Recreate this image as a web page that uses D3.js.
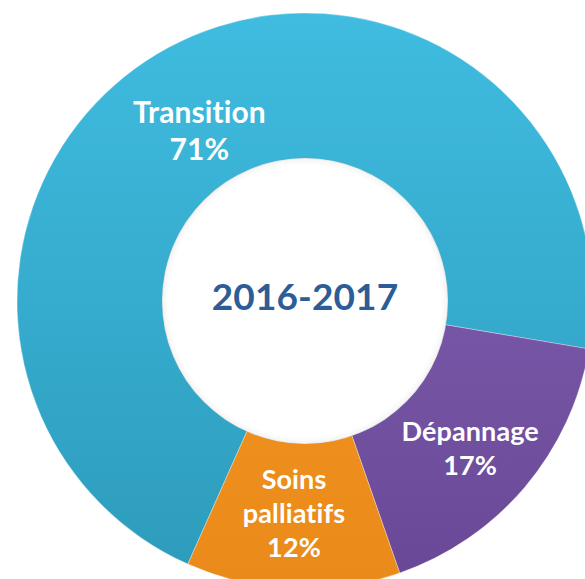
<!DOCTYPE html>
<html>
<head>
    <meta charset="utf-8">
    <style>
        body { margin: 0; background: #fff; }
        svg { display: block; }
        text { font-variant-ligatures: none; letter-spacing: 0.1px; }
    </style>
</head>
<body>
<script src="https://cdn.jsdelivr.net/npm/d3@7"></script>
<script>
    var categories = ['Transition', 'Dépannage', 'Soins palliatifs'];
    var values = [71, 17, 12];
    var labelLines = [['Transition', '71%'], ['Dépannage', '17%'], ['Soins', 'palliatifs', '12%']];
    var title = '2016-2017';

    var W = 585, H = 579;
    var chart = {
        cx: 305,
        cy: 301,
        outer: 288,
        inner: 142,
        start: 204, // degrees, clockwise from 12 o'clock
        fontfamily: 'Lato, "Open Sans", sans-serif'
    };
    var colours = [
        ['#3FBCE0', '#2D9BBB'],
        ['#8A65B9', '#684896'],
        ['#F99A22', '#EA8A1A']
    ];
    // label styling and nudges from each slice centroid
    var labelSize = [30, 27, 27];
    var labelLead = [37, 34, 34];
    var nudge = [[-4, 19], [1, 9], [-2, -2]];

    var svg = d3.select('body').append('svg')
        .attr('width', W)
        .attr('height', H);

    var defs = svg.append('defs');
    colours.forEach(function (c, i) {
        var lg = defs.append('linearGradient')
            .attr('id', 'grad' + i)
            .attr('gradientUnits', 'userSpaceOnUse')
            .attr('x1', 0).attr('y1', -chart.outer)
            .attr('x2', 0).attr('y2', chart.outer);
        lg.append('stop').attr('offset', '0%').attr('stop-color', c[0]);
        lg.append('stop').attr('offset', '100%').attr('stop-color', c[1]);
    });

    var hole = defs.append('radialGradient').attr('id', 'hole');
    hole.append('stop').attr('offset', '95%').attr('stop-color', '#ffffff');
    hole.append('stop').attr('offset', '99%').attr('stop-color', '#f6f6f6');
    hole.append('stop').attr('offset', '100%').attr('stop-color', '#dcdcdc');

    var pie = d3.pie()
        .sort(null)
        .startAngle(chart.start * Math.PI / 180)
        .endAngle(chart.start * Math.PI / 180 + 2 * Math.PI);

    var arc = d3.arc()
        .innerRadius(chart.inner)
        .outerRadius(chart.outer);

    var labelArc = d3.arc()
        .innerRadius((chart.inner + chart.outer) / 2)
        .outerRadius((chart.inner + chart.outer) / 2);

    var g = svg.append('g')
        .attr('transform', 'translate(' + chart.cx + ',' + chart.cy + ')');

    var slices = pie(values);

    g.selectAll('path.slice')
        .data(slices)
        .enter()
        .append('path')
        .attr('class', 'slice')
        .attr('d', arc)
        .style('fill', function (d, i) { return 'url(#grad' + i + ')'; })
        .style('stroke', 'rgba(255,255,255,0.3)')
        .style('stroke-width', 1);

    g.append('circle')
        .attr('r', chart.inner + 1)
        .style('fill', 'url(#hole)');

    g.append('text')
        .attr('x', 0)
        .attr('y', 9)
        .attr('text-anchor', 'middle')
        .attr('font-family', chart.fontfamily)
        .attr('font-weight', 700)
        .attr('font-size', 37)
        .attr('fill', '#2C5D97')
        .text(title);

    var labels = g.selectAll('g.label')
        .data(slices)
        .enter()
        .append('g')
        .attr('class', 'label')
        .attr('transform', function (d, i) {
            var c = labelArc.centroid(d);
            return 'translate(' + (c[0] + nudge[i][0]) + ',' + (c[1] + nudge[i][1]) + ')';
        });

    labels.append('text')
        .attr('text-anchor', 'middle')
        .attr('font-family', chart.fontfamily)
        .attr('font-weight', 700)
        .attr('font-size', function (d, i) { return labelSize[i]; })
        .attr('fill', '#fff')
        .each(function (d, i) {
            var lines = labelLines[i];
            var t = d3.select(this);
            var top = -(lines.length - 1) * labelLead[i] / 2 + labelSize[i] * 0.35;
            lines.forEach(function (s, k) {
                t.append('tspan')
                    .attr('x', 0)
                    .attr('y', top + k * labelLead[i])
                    .text(s);
            });
        });
</script>
</body>
</html>
